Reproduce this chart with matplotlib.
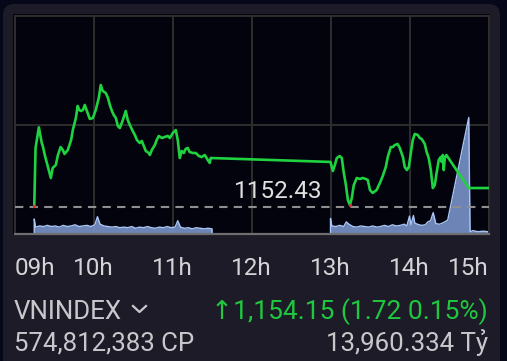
import matplotlib
matplotlib.use("Agg")
import matplotlib.pyplot as plt
import matplotlib.transforms as mtransforms
from matplotlib.patches import FancyBboxPatch, Rectangle
from matplotlib.lines import Line2D

# VNINDEX intraday chart (time in minutes after 09:00)

ref_price = 1152.43
close_price = 1154.15

am_times = [15, 16, 18.5, 20.7, 21.5, 23, 26, 27.6, 29, 31.4, 33, 35, 36.7, 38, 40.5, 43, 44.3,
            46.6, 48, 49.2, 50.4, 52, 53.4, 55, 57.2, 59.5, 61.7, 64, 65.5, 67, 69.3, 71, 72.4,
            74, 75.4, 77, 78.5, 80, 82.3, 84.5, 86, 87.6, 89.8, 91.4, 93, 95.2, 96.7, 98.2,
            99.7, 102, 102.8, 104.3, 106.6, 108, 109.6, 112, 114, 116.4, 118, 120.2, 122.5,
            124, 124.8, 125.5, 127, 128.6, 130, 131.6, 133, 135.4, 137.7, 140, 142.2, 144.5,
            146.8, 148.3, 149, 150]
am_prices = [1152.52, 1157.73, 1159.57, 1158.17, 1157.90, 1157.10, 1155.76, 1155.05, 1155.94,
             1156.21, 1157.10, 1157.81, 1157.55, 1157.19, 1157.55, 1158.44, 1159.33, 1160.40,
             1161.48, 1161.12, 1161.03, 1161.12, 1161.57, 1161.03, 1160.32, 1160.40, 1161.12,
             1162.19, 1163.35, 1162.82, 1162.64, 1162.19, 1161.57, 1161.03, 1160.67, 1160.40,
             1159.69, 1159.51, 1160.23, 1161.03, 1160.23, 1159.78, 1159.24, 1158.89, 1158.44,
             1158.17, 1158.35, 1157.90, 1157.46, 1157.28, 1157.10, 1157.55, 1157.99, 1158.44,
             1158.80, 1158.62, 1158.71, 1158.80, 1158.62, 1159.06, 1159.33, 1158.44, 1157.55,
             1156.83, 1157.46, 1157.28, 1157.64, 1157.73, 1157.37, 1157.28, 1157.28, 1157.01,
             1156.92, 1157.10, 1156.65, 1156.39, 1156.83, 1156.83]

pm_times = [240, 241.8, 243.3, 244.8, 247, 248.6, 250, 251.7, 253.2, 254.7, 256.2, 257.7, 260,
            262.3, 264.5, 266.8, 268.3, 270, 272, 275, 277.5, 279.7, 282, 283.5, 285.8, 287.3,
            288.8, 291, 292.6, 295, 296.4, 298, 299.5, 301, 302.5, 304, 306.3, 307.8, 309.3,
            311.6, 313, 314.6, 316.2, 317.7, 319.2, 320.7, 322.2, 323.7, 324.5, 325.3, 326,
            326.8, 328, 345, 360]
pm_prices = [1156.48, 1155.67, 1156.21, 1156.83, 1157.01, 1156.83, 1155.58, 1154.42, 1153.08,
             1152.64, 1153.26, 1154.42, 1155.05, 1154.96, 1155.05, 1154.96, 1154.87, 1153.97,
             1153.71, 1153.97, 1154.60, 1155.23, 1156.03, 1156.92, 1157.81, 1157.81, 1157.99,
             1158.08, 1157.73, 1156.92, 1156.03, 1155.76, 1156.03, 1157.28, 1158.44, 1158.98,
             1158.89, 1158.62, 1158.53, 1158.08, 1157.37, 1156.83, 1155.76, 1154.15, 1154.42,
             1155.58, 1156.65, 1156.92, 1156.48, 1157.10, 1155.76, 1156.83, 1157.10, 1154.15,
             1154.15]

# volume, million shares
am_vol_times = [15, 16, 19, 22, 25, 28, 31, 34, 37, 40, 43, 46, 49, 52, 55, 58, 61, 63, 65, 68,
                71, 74, 77, 80, 83, 86, 89, 92, 95, 98, 101, 104, 107, 110, 113, 116, 119, 122,
                124, 126, 129, 132, 135, 138, 141, 144, 147, 150]
am_vol = [2.5, 1.1, 1.3, 1.2, 1.4, 1.2, 1.3, 1.1, 1.4, 1.2, 1.3, 1.5, 1.2, 1.3, 1.4, 1.2, 1.5,
          2.9, 1.6, 1.3, 1.2, 1.1, 1.2, 1.0, 1.1, 1.0, 1.2, 0.9, 1.1, 1.0, 1.2, 1.0, 0.9, 1.1,
          1.0, 1.2, 1.0, 1.1, 2.2, 1.1, 0.9, 1.0, 0.8, 1.0, 0.9, 0.8, 0.9, 0.8]
pm_vol_times = [240, 241, 244, 247, 250, 252, 254, 257, 260, 263, 266, 269, 272, 275, 278, 281,
                284, 287, 290, 293, 296, 298, 300, 301, 303, 304, 306, 309, 312, 314, 316, 318,
                320, 323, 326, 329, 345, 346, 348, 352, 356, 360]
pm_vol = [2.6, 1.3, 1.2, 1.4, 1.2, 2.0, 1.6, 1.2, 1.1, 1.3, 1.2, 1.1, 1.3, 1.1, 1.2, 1.4, 1.2,
          1.5, 1.3, 1.4, 1.6, 1.3, 3.0, 1.5, 3.1, 1.8, 1.6, 1.4, 1.5, 2.0, 2.2, 3.6, 1.7, 1.6,
          1.9, 2.3, 20.0, 0.3, 0.5, 0.3, 0.4, 0.3]

hour_ticks = [0, 60, 120, 180, 240, 300, 360]
hour_labels = ["09h", "10h", "11h", "12h", "13h", "14h", "15h"]

W, H = 507, 361
plt.rcParams["font.family"] = ["Roboto", "DejaVu Sans"]
fig = plt.figure(figsize=(W / 100, H / 100), dpi=100, facecolor="#07071a")
ident = mtransforms.IdentityTransform()

fig.add_artist(FancyBboxPatch((3, -20), 497, 377, boxstyle="round,pad=0,rounding_size=11",
                              transform=ident, facecolor="#1c1b27", edgecolor="none",
                              zorder=-3))
fig.add_artist(Rectangle((13, H - 234.5), 476.5, 220.5, transform=ident,
                         facecolor="#03030e", edgecolor="none", zorder=-2))

grid_c = "#2e2e2e"
ax_v = fig.add_axes([14.5 / W, (H - 233.5) / H, 474 / W, 217 / H], facecolor="#03030e")
ax_v.set_xlim(0, 360)
ax_v.set_ylim(0, 37.4)
for m in hour_ticks:
    ax_v.axvline(m, color=grid_c, lw=1.4, zorder=0.5)
ax_v.plot([0, 1], [0.5, 0.5], transform=ax_v.transAxes, color=grid_c, lw=1.4, zorder=0.5)
for s in ["top", "left", "right"]:
    ax_v.spines[s].set_color(grid_c)
    ax_v.spines[s].set_linewidth(1.4)
ax_v.spines["bottom"].set_color("#6e6e6e")
ax_v.spines["bottom"].set_linewidth(1.6)
ax_v.set_xticks([])
ax_v.set_yticks([])

for t, v in [(am_vol_times, am_vol), (pm_vol_times, pm_vol)]:
    ax_v.fill_between(t, v, 0, color="#7690c6", alpha=0.92, linewidth=0, zorder=2)
    ax_v.plot([t[0]] + t + [t[-1]], [0] + v + [0], color="#a9c6f6", lw=1.0, zorder=2.5)

ax_p = ax_v.twinx()
ax_p.set_xlim(0, 360)
ax_p.set_ylim(1150.09, 1169.47)
for s in ax_p.spines.values():
    s.set_visible(False)
ax_p.set_yticks([])

ax_p.axhline(ref_price, color="#8f8f8f", lw=1.5, ls=(0, (4, 3)), zorder=2)
ax_p.plot(am_times + pm_times, am_prices + pm_prices, color="#1fd23f", lw=1.9, zorder=3)
ax_p.plot([am_times[0], 254.7], [am_prices[0], 1152.64], "o", ms=1.4, color="#d83030", zorder=4)
ax_p.text(0.557, 1153.22, f"{ref_price:.2f}", transform=ax_p.get_yaxis_transform(),
          ha="center", va="baseline", fontsize=17.5, color="#e0e0e0")

xlab = mtransforms.blended_transform_factory(ax_v.transData, fig.transFigure)
for i, (m, lab) in enumerate(zip(hour_ticks, hour_labels)):
    ha = "left" if i == 0 else ("right" if i == len(hour_ticks) - 1 else "center")
    ax_v.text(m, 1 - 275 / H, lab, transform=xlab, ha=ha, va="baseline",
              fontsize=17.5, color="#d4d4d8", clip_on=False)

txt_c = "#c8c8cc"
fig.text(14 / W, 1 - 319 / H, "VNINDEX", ha="left", va="baseline", fontsize=18.6, color=txt_c)
fig.add_artist(Line2D([133 / W, 139.5 / W, 146 / W], [1 - 306 / H, 1 - 312 / H, 1 - 306 / H],
                      color=txt_c, lw=1.6))
fig.text(488 / W, 1 - 319 / H,
         f"\u2191{close_price:,.2f} ({close_price - ref_price:.2f} 0.15%)",
         ha="right", va="baseline", fontsize=19, color="#1fc83e")
fig.text(14 / W, 1 - 351 / H, "574,812,383 CP", ha="left", va="baseline", fontsize=18.6,
         color=txt_c)
fig.text(488 / W, 1 - 351 / H, "13,960.334 Tỷ", ha="right", va="baseline", fontsize=18.6,
         color=txt_c)

fig.savefig("out.png", dpi=100, facecolor=fig.get_facecolor())
